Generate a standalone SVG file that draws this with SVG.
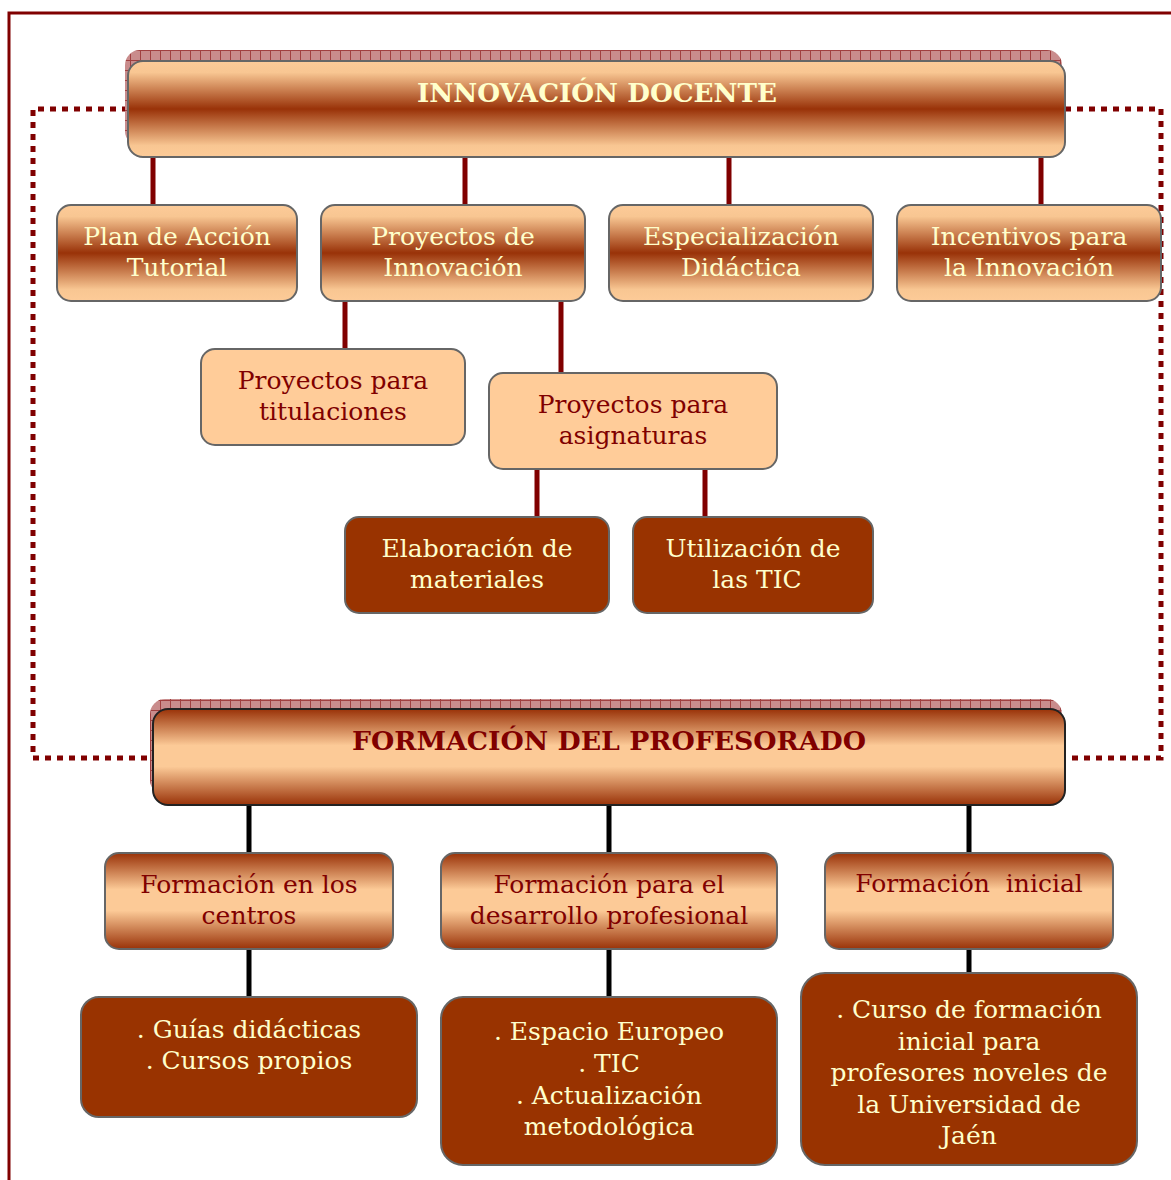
<svg xmlns="http://www.w3.org/2000/svg" width="1171" height="1180" viewBox="0 0 1171 1180">
<defs>
  <linearGradient id="gA" x1="0" y1="0" x2="0" y2="1">
    <stop offset="0" stop-color="#FDCB98"/>
    <stop offset="0.12" stop-color="#F8C692"/>
    <stop offset="0.5" stop-color="#993208"/>
    <stop offset="0.88" stop-color="#F8C692"/>
    <stop offset="1" stop-color="#FDCB98"/>
  </linearGradient>
  <linearGradient id="gB" x1="0" y1="0" x2="0" y2="1">
    <stop offset="0" stop-color="#993208"/>
    <stop offset="0.38" stop-color="#FCCA97"/>
    <stop offset="0.6" stop-color="#FCCA97"/>
    <stop offset="1" stop-color="#993208"/>
  </linearGradient>
  <pattern id="hatch" width="10" height="10" patternUnits="userSpaceOnUse">
    <rect width="10" height="10" fill="#C98C8C"/>
    <path d="M0 0.5H10M0.5 0V10" stroke="#A04040" stroke-width="1"/>
  </pattern>
  <style>
    .t { font-family: "DejaVu Serif", "Liberation Serif", serif; font-size: 25px; text-anchor: middle; }
    .lt { fill: #FFFFCC; }
    .dk { fill: #800000; }
    .title { font-family: "DejaVu Serif", "Liberation Serif", serif; font-size: 26px; font-weight: bold; text-anchor: middle; }
    .boxA { fill: url(#gA); stroke: #666666; stroke-width: 2; }
    .boxB { fill: url(#gB); stroke: #666666; stroke-width: 2; }
    .boxL { fill: #FFCC99; stroke: #666666; stroke-width: 2; }
    .boxD { fill: #993300; stroke: #666666; stroke-width: 2; }
    .red { stroke: #800000; stroke-width: 5; fill: none; }
    .blk { stroke: #000000; stroke-width: 5; fill: none; }
    .dot { stroke: #800000; stroke-width: 5; fill: none; stroke-dasharray: 6 6; }
  </style>
</defs>
<rect width="1171" height="1180" fill="#FFFFFF"/>
<path d="M9 1180V13H1171" stroke="#800000" stroke-width="3" fill="none"/>

<g id="connectors">
  <path class="dot" d="M128 109H33V758H152"/>
  <path class="dot" d="M1065 109H1161V758H1065"/>
  <path class="red" d="M153 157V205M465 157V205M729 157V205M1041 157V205"/>
  <path class="red" d="M345 301V349M561 301V373M537 469V517M705 469V517"/>
  <path class="blk" d="M249 805V853M609 805V853M969 805V853"/>
  <path class="blk" d="M249 949V997M609 949V997M969 949V973"/>
</g>

<g id="innovacion">
  <rect x="125" y="50" width="937" height="96" rx="15" fill="url(#hatch)"/>
  <rect class="boxA" x="128" y="61" width="937" height="96" rx="15"/>
  <text class="title lt" x="597" y="102" textLength="360" lengthAdjust="spacingAndGlyphs">INNOVACIÓN DOCENTE</text>
</g>
<g id="plan">
  <rect class="boxA" x="57" y="205" width="240" height="96" rx="14"/>
  <text class="t lt" x="177" y="245">Plan de Acción</text>
  <text class="t lt" x="177" y="276">Tutorial</text>
</g>
<g id="proyectos">
  <rect class="boxA" x="321" y="205" width="264" height="96" rx="14"/>
  <text class="t lt" x="453" y="245">Proyectos de</text>
  <text class="t lt" x="453" y="276">Innovación</text>
</g>
<g id="especializacion">
  <rect class="boxA" x="609" y="205" width="264" height="96" rx="14"/>
  <text class="t lt" x="741" y="245">Especialización</text>
  <text class="t lt" x="741" y="276">Didáctica</text>
</g>
<g id="incentivos">
  <rect class="boxA" x="897" y="205" width="264" height="96" rx="14"/>
  <text class="t lt" x="1029" y="245">Incentivos para</text>
  <text class="t lt" x="1029" y="276">la Innovación</text>
</g>
<g id="titulaciones">
  <rect class="boxL" x="201" y="349" width="264" height="96" rx="14"/>
  <text class="t dk" x="333" y="389">Proyectos para</text>
  <text class="t dk" x="333" y="420">titulaciones</text>
</g>
<g id="asignaturas">
  <rect class="boxL" x="489" y="373" width="288" height="96" rx="14"/>
  <text class="t dk" x="633" y="413">Proyectos para</text>
  <text class="t dk" x="633" y="444">asignaturas</text>
</g>
<g id="elaboracion">
  <rect class="boxD" x="345" y="517" width="264" height="96" rx="14"/>
  <text class="t lt" x="477" y="557">Elaboración de</text>
  <text class="t lt" x="477" y="588">materiales</text>
</g>
<g id="utilizacion">
  <rect class="boxD" x="633" y="517" width="240" height="96" rx="14"/>
  <text class="t lt" x="753" y="557">Utilización de</text>
  <text class="t lt" x="757" y="588">las TIC</text>
</g>

<g id="formacion">
  <rect x="150" y="699" width="912" height="96" rx="15" fill="url(#hatch)"/>
  <rect x="153" y="709" width="912" height="96" rx="15" fill="url(#gB)" stroke="#222222" stroke-width="2"/>
  <text class="title dk" x="609" y="750" textLength="514" lengthAdjust="spacingAndGlyphs">FORMACIÓN DEL PROFESORADO</text>
</g>
<g id="centros">
  <rect class="boxB" x="105" y="853" width="288" height="96" rx="14"/>
  <text class="t dk" x="249" y="893">Formación en los</text>
  <text class="t dk" x="249" y="924">centros</text>
</g>
<g id="desarrollo">
  <rect class="boxB" x="441" y="853" width="336" height="96" rx="14"/>
  <text class="t dk" x="609" y="893">Formación para el</text>
  <text class="t dk" x="609" y="924">desarrollo profesional</text>
</g>
<g id="inicial">
  <rect class="boxB" x="825" y="853" width="288" height="96" rx="14"/>
  <text class="t dk" x="969" y="892" xml:space="preserve">Formación  inicial</text>
</g>
<g id="guias">
  <rect class="boxD" x="81" y="997" width="336" height="120" rx="18"/>
  <text class="t lt" x="249" y="1038">. Guías didácticas</text>
  <text class="t lt" x="249" y="1069">. Cursos propios</text>
</g>
<g id="espacio">
  <rect class="boxD" x="441" y="997" width="336" height="168" rx="22"/>
  <text class="t lt" x="609" y="1040">. Espacio Europeo</text>
  <text class="t lt" x="609" y="1072">. TIC</text>
  <text class="t lt" x="609" y="1104">. Actualización</text>
  <text class="t lt" x="609" y="1135">metodológica</text>
</g>
<g id="curso">
  <rect class="boxD" x="801" y="973" width="336" height="192" rx="24"/>
  <text class="t lt" x="969" y="1018">. Curso de formación</text>
  <text class="t lt" x="969" y="1050">inicial para</text>
  <text class="t lt" x="969" y="1081">profesores noveles de</text>
  <text class="t lt" x="969" y="1113">la Universidad de</text>
  <text class="t lt" x="969" y="1144">Jaén</text>
</g>
</svg>
